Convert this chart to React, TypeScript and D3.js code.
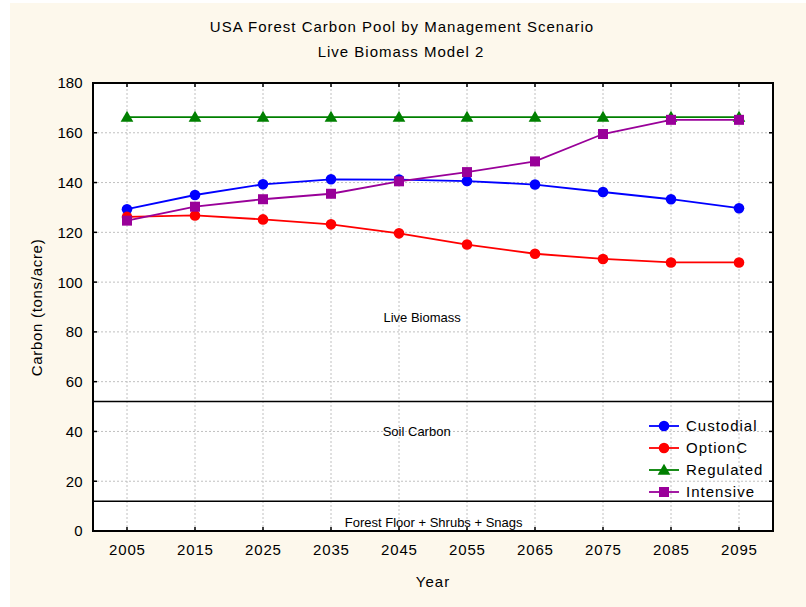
import React from 'react';
import * as d3 from 'd3';

const years = [2005, 2015, 2025, 2035, 2045, 2055, 2065, 2075, 2085, 2095];
const custodial = [129.3, 135, 139.3, 141.3, 141.2, 140.6, 139.2, 136.2, 133.3, 129.7];
const optionC = [126.2, 126.8, 125.2, 123.2, 119.6, 115.1, 111.4, 109.3, 107.9, 107.9];
const regulated = [166.3, 166.3, 166.3, 166.3, 166.3, 166.3, 166.3, 166.3, 166.3, 166.3];
const intensive = [124.7, 130.3, 133.3, 135.5, 140.5, 144.2, 148.5, 159.5, 165.2, 165.2];
const yTicks = [0, 20, 40, 60, 80, 100, 120, 140, 160, 180];
const poolBounds = [12, 52];

const seriesNames = ['Custodial', 'OptionC', 'Regulated', 'Intensive'];
const seriesValues = [custodial, optionC, regulated, intensive];
const seriesColors = ['#0000ff', '#ff0000', '#008000', '#990099'];
const seriesMarkers = ['circle', 'circle', 'triangle', 'square'];

const W = 806;
const H = 607;
const margin = { top: 83, right: 33, bottom: 76, left: 93 };
const font = '"Liberation Sans", Arial, sans-serif';

const Marker = ({ kind, x, y, color }: { kind: string; x: number; y: number; color: string }) => {
  if (kind === 'circle') return <circle cx={x} cy={y} r={5.3} fill={color} />;
  if (kind === 'square') return <rect x={x - 5} y={y - 5} width={10} height={10} fill={color} />;
  const s = d3.symbol().type(d3.symbolTriangle).size(70)();
  return <path d={s || ''} transform={`translate(${x},${y + 1})`} fill={color} />;
};

export default function App() {
  const innerW = W - margin.left - margin.right;
  const innerH = H - margin.top - margin.bottom;
  const x = d3.scaleLinear().domain([2000, 2100]).range([margin.left, margin.left + innerW]);
  const y = d3.scaleLinear().domain([0, 180]).range([margin.top + innerH, margin.top]);
  const line = d3
    .line<number>()
    .x((_, i) => x(years[i]))
    .y((d) => y(d));

  const x0 = margin.left;
  const x1 = margin.left + innerW;
  const y0 = margin.top + innerH;
  const y1 = margin.top;

  return (
    <div style={{ position: 'fixed', left: 0, top: 0 }}>
      <svg width={W} height={H} style={{ display: 'block', fontFamily: font }}>
        <rect x={0} y={0} width={W} height={H} fill="#ffffff" />
        <rect x={10} y={3} width={W - 10} height={H - 3} fill="#fdf8ec" />
        <rect x={x0} y={y1} width={innerW} height={innerH} fill="#ffffff" />

        {/* grid */}
        {yTicks.slice(1, -1).map((t) => (
          <line key={'gy' + t} x1={x0} x2={x1} y1={y(t)} y2={y(t)} stroke="#c0c0c0" strokeWidth={1} strokeDasharray="2,2" />
        ))}
        {years.map((t) => (
          <line key={'gx' + t} x1={x(t)} x2={x(t)} y1={y0} y2={y1} stroke="#c0c0c0" strokeWidth={1} strokeDasharray="2,2" />
        ))}

        {/* pool boundaries */}
        {poolBounds.map((b) => (
          <line key={'pb' + b} x1={x0} x2={x1} y1={y(b)} y2={y(b)} stroke="#000" strokeWidth={1.5} />
        ))}

        {/* pool labels */}
        <g fontSize={13} fill="#000" textAnchor="middle">
          <text x={x(2048.4)} y={y(86)} dy="0.35em">Live Biomass</text>
          <text x={x(2047.6)} y={y(39.9)} dy="0.35em">Soil Carbon</text>
          <text x={x(2050.1)} y={y(3.6)} dy="0.35em">Forest Floor + Shrubs + Snags</text>
        </g>

        {/* series */}
        {seriesValues.map((vals, si) => (
          <g key={seriesNames[si]}>
            <path d={line(vals) || ''} fill="none" stroke={seriesColors[si]} strokeWidth={1.8} />
            {vals.map((v, i) => (
              <Marker key={i} kind={seriesMarkers[si]} x={x(years[i])} y={y(v)} color={seriesColors[si]} />
            ))}
          </g>
        ))}

        {/* frame */}
        <rect x={x0} y={y1} width={innerW} height={innerH} fill="none" stroke="#000" strokeWidth={2} />

        {/* ticks */}
        {yTicks.map((t) => (
          <g key={'ty' + t}>
            <line x1={x0} x2={x0 + 4} y1={y(t)} y2={y(t)} stroke="#000" strokeWidth={1.5} />
            <line x1={x1} x2={x1 - 4} y1={y(t)} y2={y(t)} stroke="#000" strokeWidth={1.5} />
            <text x={x0 - 10.5} y={y(t)} dy="0.36em" textAnchor="end" fontSize={15} fill="#000">
              {t}
            </text>
          </g>
        ))}
        {years.map((t) => (
          <g key={'tx' + t}>
            <line x1={x(t)} x2={x(t)} y1={y0} y2={y0 - 4} stroke="#000" strokeWidth={1.5} />
            <line x1={x(t)} x2={x(t)} y1={y1} y2={y1 + 4} stroke="#000" strokeWidth={1.5} />
            <text x={x(t) + 0.4} y={y0 + 24} textAnchor="middle" fontSize={15} letterSpacing={0.8} fill="#000">
              {t}
            </text>
          </g>
        ))}

        {/* titles */}
        <g fontSize={15} letterSpacing={1} fill="#000" textAnchor="middle">
          <text x={402} y={32}>USA Forest Carbon Pool by Management Scenario</text>
          <text x={401} y={57}>Live Biomass Model 2</text>
          <text x={433} y={587}>Year</text>
        </g>
        <text
          transform={`translate(42,307.5) rotate(-90)`}
          textAnchor="middle"
          fontSize={15}
          letterSpacing={0.7}
          fill="#000"
        >
          Carbon (tons/acre)
        </text>

        {/* legend */}
        {seriesNames.map((name, i) => {
          const ly = 426 + i * 22;
          return (
            <g key={'lg' + name}>
              <line x1={649} x2={679} y1={ly} y2={ly} stroke={seriesColors[i]} strokeWidth={1.8} />
              <Marker kind={seriesMarkers[i]} x={664} y={ly} color={seriesColors[i]} />
              <text x={686} y={ly} dy="0.36em" fontSize={15} letterSpacing={1} fill="#000">
                {name}
              </text>
            </g>
          );
        })}
      </svg>
    </div>
  );
}
